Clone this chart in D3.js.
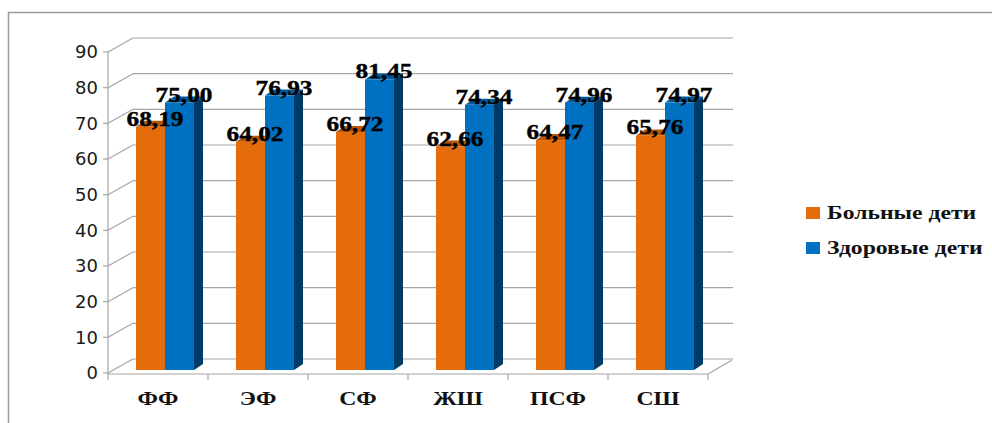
<!DOCTYPE html>
<html>
<head>
<meta charset="utf-8">
<script src="https://cdn.jsdelivr.net/npm/d3@7"></script>
<style>
  body { margin: 0; background: #fff; }
  svg { display: block; }
</style>
</head>
<body>
<div id="vizArea"></div>
<script>
// chart data
var categories = ["ФФ", "ЭФ", "СФ", "ЖШ", "ПСФ", "СШ"];
var seriesNames = ["Больные дети", "Здоровые дети"];
var sickValues = [68.19, 64.02, 66.72, 62.66, 64.47, 65.76];
var healthyValues = [75.00, 76.93, 81.45, 74.34, 74.96, 74.97];
var yTicks = [0, 10, 20, 30, 40, 50, 60, 70, 80, 90];

var frontColors = ["#E46C0A", "#0070C0"];
var topColors = ["#B85607", "#005A9C"];
var sideColors = ["#9A4806", "#003A66"];

var W = 992, H = 423;
var depthX = 25, depthY = -14;      // wall depth
var barDX = 9, barDY = -6;          // bar depth
var serif = "'Liberation Serif', 'Times New Roman', serif";

var canvas = d3.select("#vizArea")
  .append("svg")
    .attr("width", W)
    .attr("height", H);

// outer frame
canvas.append("path")
  .attr("d", "M8.5," + H + " V12.5 H" + W)
  .attr("fill", "none")
  .attr("stroke", "#9a9a9a")
  .attr("stroke-width", 1.5);

var x = d3.scaleBand(categories, [108, 708]);
var inner = d3.scaleBand(seriesNames, [28, 86]);
var y = d3.scaleLinear().domain([0, 90]).range([373, 52]);
var yBar = d3.scaleLinear().domain([0, 90]).range([370, 49]);

var grid = canvas.append("g")
  .attr("stroke", "#a6a6a6")
  .attr("stroke-width", 1.2)
  .attr("fill", "none");

// back wall gridlines
grid.selectAll(".back").data(yTicks).enter().append("line")
  .attr("x1", 108 + depthX).attr("x2", 708 + depthX)
  .attr("y1", function (d) { return y(d) + depthY; })
  .attr("y2", function (d) { return y(d) + depthY; });

// side wall diagonals
grid.selectAll(".side").data(yTicks).enter().append("line")
  .attr("x1", 108).attr("x2", 108 + depthX)
  .attr("y1", function (d) { return y(d); })
  .attr("y2", function (d) { return y(d) + depthY; });

// floor front edge and right diagonal
grid.append("line")
  .attr("x1", 108).attr("x2", 708)
  .attr("y1", y(0) + 1).attr("y2", y(0) + 1);
grid.append("line")
  .attr("x1", 708).attr("x2", 708 + depthX - 1)
  .attr("y1", y(0) + 1).attr("y2", y(0) + depthY + 1);

// y axis line and ticks
grid.append("line")
  .attr("x1", 108).attr("x2", 108)
  .attr("y1", y(90)).attr("y2", y(0) + 1);
grid.selectAll(".ytick").data(yTicks).enter().append("line")
  .attr("x1", 103).attr("x2", 108)
  .attr("y1", function (d) { return y(d); })
  .attr("y2", function (d) { return y(d); });

// category ticks
grid.selectAll(".xtick").data(d3.range(categories.length + 1)).enter().append("line")
  .attr("x1", function (i) { return 108 + i * x.step(); })
  .attr("x2", function (i) { return 108 + i * x.step(); })
  .attr("y1", y(0) + 1).attr("y2", y(0) + 7);

// y tick labels
canvas.selectAll(".ylab").data(yTicks).enter().append("text")
  .attr("x", 98)
  .attr("y", function (d) { return y(d); })
  .attr("dy", "0.36em")
  .attr("text-anchor", "end")
  .attr("font-family", "DejaVu Sans")
  .attr("font-size", 18)
  .attr("fill", "#1a1a1a")
  .text(function (d) { return d; });

// category labels
canvas.selectAll(".xlab").data(categories).enter().append("text")
  .attr("transform", function (d) {
    return "translate(" + (x(d) + x.bandwidth() / 2) + ",405) scale(1.25,1)";
  })
  .attr("text-anchor", "middle")
  .attr("font-family", serif)
  .attr("font-weight", "bold")
  .attr("font-size", 19)
  .attr("fill", "#111")
  .text(function (d) { return d; });

// bars
var rows = [];
categories.forEach(function (c, i) {
  rows.push({ cat: c, s: 0, v: sickValues[i] });
  rows.push({ cat: c, s: 1, v: healthyValues[i] });
});

var bars = canvas.selectAll(".bar").data(rows).enter().append("g");
bars.each(function (d) {
  var g = d3.select(this);
  var x0 = x(d.cat) + inner(seriesNames[d.s]);
  var w = inner.bandwidth();
  var yt = yBar(d.v), yb = yBar(0);
  g.append("rect")
    .attr("x", x0).attr("y", yt)
    .attr("width", w).attr("height", yb - yt)
    .attr("fill", frontColors[d.s]);
  g.append("polygon")
    .attr("points", [[x0, yt], [x0 + w, yt], [x0 + w + barDX, yt + barDY], [x0 + barDX, yt + barDY]].join(" "))
    .attr("fill", topColors[d.s]);
  g.append("polygon")
    .attr("points", [[x0 + w, yt], [x0 + w + barDX, yt + barDY], [x0 + w + barDX, yb + barDY], [x0 + w, yb]].join(" "))
    .attr("fill", sideColors[d.s]);
});

// value labels
canvas.selectAll(".vlab").data(rows).enter().append("text")
  .attr("transform", function (d) {
    var cx = x(d.cat) + inner(seriesNames[d.s]) + inner.bandwidth() / 2 + barDX / 2;
    return "translate(" + cx + "," + (yBar(d.v) - 1) + ") scale(1.15,1)";
  })
  .attr("text-anchor", "middle")
  .attr("font-family", serif)
  .attr("font-weight", "bold")
  .attr("font-size", 22)
  .attr("fill", "#000")
  .attr("stroke", "#000")
  .attr("stroke-width", 0.4)
  .text(function (d) { return d.v.toFixed(2).replace(".", ","); });

// legend
var legend = canvas.selectAll(".leg").data(seriesNames).enter().append("g")
  .attr("transform", function (d, i) { return "translate(806," + (207 + i * 35) + ")"; });
legend.append("rect")
  .attr("width", 14).attr("height", 12)
  .attr("fill", function (d, i) { return frontColors[i]; });
legend.append("text")
  .attr("transform", "translate(21,12) scale(1.28,1)")
  .attr("font-family", serif)
  .attr("font-weight", "bold")
  .attr("font-size", 18.5)
  .attr("fill", "#111")
  .text(function (d) { return d; });
</script>
</body>
</html>
